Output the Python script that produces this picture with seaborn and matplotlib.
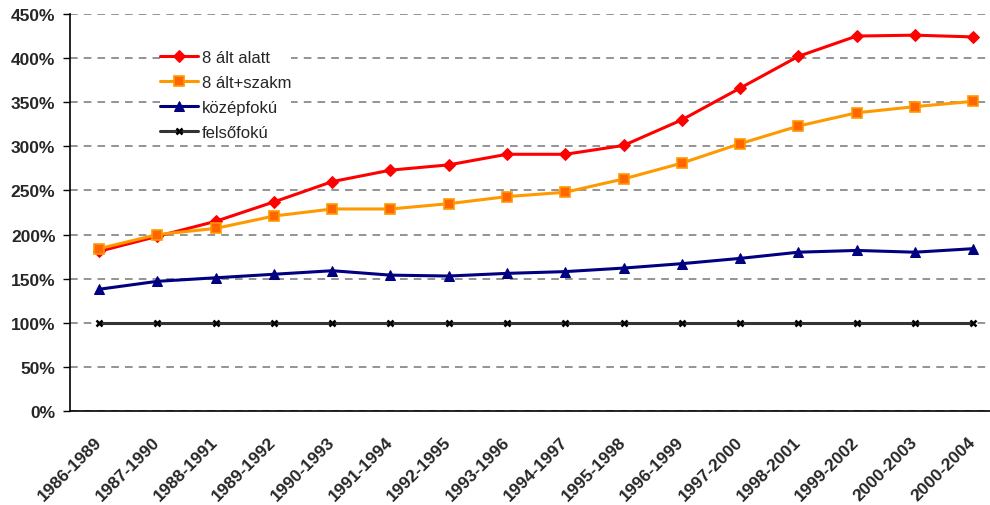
import matplotlib
matplotlib.use("Agg")
import matplotlib.pyplot as plt
import matplotlib.transforms as mtransforms
import seaborn as sns
import numpy as np
from matplotlib.ticker import FixedLocator, PercentFormatter

# Data
periods = ["1986-1989", "1987-1990", "1988-1991", "1989-1992", "1990-1993",
           "1991-1994", "1992-1995", "1993-1996", "1994-1997", "1995-1998",
           "1996-1999", "1997-2000", "1998-2001", "1999-2002", "2000-2003",
           "2000-2004"]
alt_alatt = [181, 198, 215, 237, 260, 273, 279, 291, 291, 301, 330, 366, 402, 425, 426, 424]
alt_szakm = [184, 200, 207, 221, 229, 229, 235, 243, 248, 263, 281, 303, 323, 338, 345, 351]
kozepfoku = [138, 147, 151, 155, 159, 154, 153, 156, 158, 162, 167, 173, 180, 182, 180, 184]
felsofoku = [100, 100, 100, 100, 100, 100, 100, 100, 100, 100, 100, 100, 100, 100, 100, 100]

sns.set_style("white")
plt.rcParams['font.family'] = ['Liberation Sans', 'DejaVu Sans']

fig = plt.figure(figsize=(9.9, 5.06), dpi=100)
ax = fig.add_axes([70 / 990, 1 - 412 / 506, 920 / 990, 397 / 506])

x = np.arange(len(periods))

# one line per series
sns.lineplot(x=x, y=alt_alatt, ax=ax, color="#FF0000", lw=2.2, marker="D",
             markersize=6.5, markeredgecolor="#FF0000", label="8 ált alatt")
sns.lineplot(x=x, y=alt_szakm, ax=ax, color="#FF9900", lw=2.2, marker="s",
             markersize=6.5, markerfacecolor="#FF6600", markeredgecolor="#FF9900",
             markeredgewidth=1.2, label="8 ált+szakm")
sns.lineplot(x=x, y=kozepfoku, ax=ax, color="#000080", lw=2.2, marker="^",
             markersize=7, markeredgecolor="#000080", label="középfokú")
sns.lineplot(x=x, y=felsofoku, ax=ax, color="#333333", lw=2.2, marker="x",
             markersize=5, markeredgewidth=1.8, markeredgecolor="#000000",
             label="felsőfokú")

ax.yaxis.set_major_locator(FixedLocator(np.arange(0, 451, 50)))
ax.yaxis.set_major_formatter(PercentFormatter(decimals=0))
ax.grid(axis="y", color="#777777", linestyle=(0, (5, 4)), lw=1.1)
ax.grid(axis="x", visible=False)

ax.set_xticks(x)
ax.set_xticklabels(periods, rotation=45, ha="right", va="center",
                   rotation_mode="anchor", fontsize=12.5, fontweight="bold")
# nudge the rotated labels a little to the left
shift = mtransforms.ScaledTranslation(-6 / 100, 0, fig.dpi_scale_trans)
for lab in ax.get_xticklabels():
    lab.set_transform(lab.get_transform() + shift)
ax.set_xticks(np.arange(-0.5, len(periods), 1), minor=True)
ax.tick_params(axis="x", which="major", length=0, pad=20)
ax.tick_params(axis="x", which="minor", length=4, width=1, color="#000000",
               direction="out")
ax.tick_params(axis="y", length=5, width=1, color="#000000", direction="out",
               left=True, labelsize=12.5, pad=5.5)
for lab in ax.get_yticklabels():
    lab.set_fontweight("bold")

# limits after the ticks, so set_xticks does not widen them
ax.set_ylim(0, 450)
ax.set_xlim(-0.5, -0.5 + 920 / 58.27)

for side in ["top", "right"]:
    ax.spines[side].set_visible(False)
for side in ["left", "bottom"]:
    ax.spines[side].set_color("#000000")
    ax.spines[side].set_linewidth(1.2)

ax.set_xlabel("")
ax.set_ylabel("")

leg = ax.legend(loc="upper left", bbox_to_anchor=(0.098, 0.91), frameon=True,
                fontsize=12, handlelength=2.3, handletextpad=0.2,
                labelspacing=0.6, borderaxespad=0, borderpad=0, fancybox=False,
                edgecolor="none", facecolor="white", framealpha=1)

fig.savefig("out.png", dpi=100)
